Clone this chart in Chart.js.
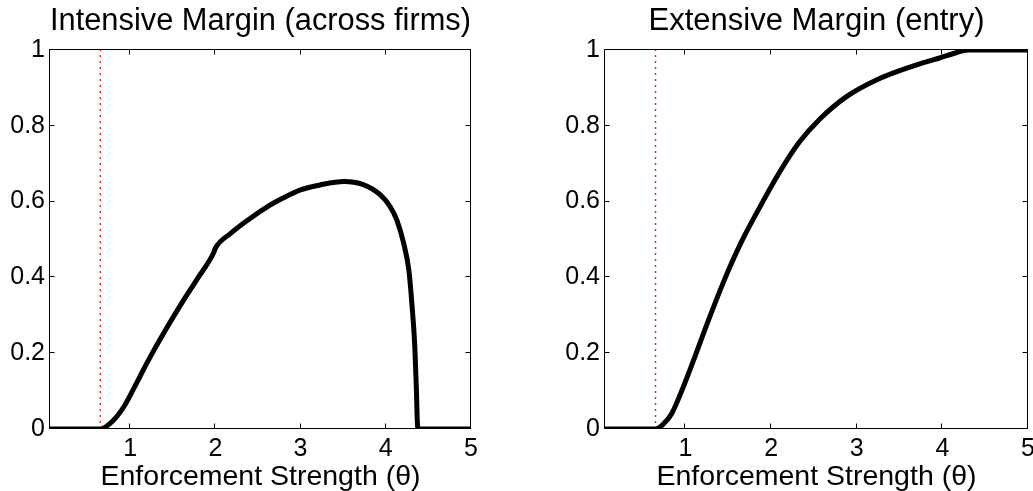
<!DOCTYPE html>
<html><head><meta charset="utf-8">
<script src="https://cdn.jsdelivr.net/npm/chart.js@4"></script>
<style>
html,body{margin:0;padding:0;background:#fff;overflow:hidden;width:1033px;height:491px;}
.box{position:absolute;top:0;height:491px;width:500px;}
#c1box{left:0;}
#c2box{left:555px;}
</style></head><body>
<div class="box" id="c1box"><canvas id="c1" width="500" height="491"></canvas></div>
<div class="box" id="c2box"><canvas id="c2" width="500" height="491"></canvas></div>
<script>
// ---- data ----
const titles = ['Intensive Margin (across firms)', 'Extensive Margin (entry)'];
const xAxisTitle = 'Enforcement Strength (\u03B8)';
const xTicks = [1, 2, 3, 4, 5];
const yTicks = [0, 0.2, 0.4, 0.6, 0.8, 1];
const yTickLabels = ['0', '0.2', '0.4', '0.6', '0.8', '1'];
const thresholdX = 0.65;
const thresholdY = [0, 1];

const intensiveX = [0.06, 0.3, 0.5, 0.65, 0.8, 0.93, 1.05, 1.2, 1.4, 1.6, 1.8, 1.98, 2.0, 2.18, 2.38, 2.6, 2.8, 3.0, 3.23, 3.51, 3.72, 3.94, 4.05, 4.13, 4.21, 4.27, 4.31, 4.34, 4.36, 4.37, 4.38, 4.6, 5.0];
const intensiveY = [0, 0, 0, 0, 0.022, 0.06, 0.11, 0.175, 0.255, 0.33, 0.4, 0.465, 0.477, 0.516, 0.551, 0.585, 0.61, 0.631, 0.644, 0.653, 0.646, 0.617, 0.587, 0.551, 0.49, 0.42, 0.32, 0.22, 0.1, 0.02, 0, 0, 0];

const extensiveX = [0.06, 0.3, 0.5, 0.65, 0.75, 0.84, 0.96, 1.08, 1.27, 1.47, 1.66, 1.86, 2.10, 2.33, 2.57, 2.88, 3.23, 3.62, 3.98, 4.15, 4.3, 4.5, 5.0];
const extensiveY = [0, 0, 0, 0, 0.015, 0.041, 0.103, 0.173, 0.288, 0.402, 0.497, 0.582, 0.678, 0.757, 0.818, 0.877, 0.921, 0.955, 0.98, 0.992, 1, 1, 1];

// ---- chart ----
const FONT = '"Liberation Sans", Arial, Helvetica, sans-serif';

const framePlugin = {
  id: 'frame',
  beforeDatasetsDraw(chart) {
    const {ctx, chartArea, scales} = chart;
    const L = Math.round(chartArea.left) - 0.5, R = Math.round(chartArea.right) - 0.5;
    const T = Math.round(chartArea.top) - 0.5, B = Math.round(chartArea.bottom) - 0.5;
    ctx.save();
    ctx.strokeStyle = '#000';
    ctx.lineWidth = 1;
    ctx.beginPath();
    ctx.rect(L, T, R - L, B - T);
    const tl = 5;
    xTicks.forEach(v => {
      const px = Math.round(scales.x.getPixelForValue(v)) - 0.5;
      ctx.moveTo(px, B); ctx.lineTo(px, B - tl);
      ctx.moveTo(px, T); ctx.lineTo(px, T + tl);
    });
    yTicks.forEach(v => {
      const py = Math.round(scales.y.getPixelForValue(v)) - 0.5;
      ctx.moveTo(L, py); ctx.lineTo(L + tl, py);
      ctx.moveTo(R, py); ctx.lineTo(R - tl, py);
    });
    ctx.stroke();
    ctx.restore();
  }
};

function makeChart(id, title, xs, ys, padRight) {
  const pts = xs.map((x, i) => ({x: x, y: ys[i]}));
  const th = thresholdY.map(y => ({x: thresholdX, y: y}));
  return new Chart(document.getElementById(id), {
    type: 'line',
    data: {
      datasets: [
        {data: pts, borderColor: '#000', borderWidth: 5, pointRadius: 0, cubicInterpolationMode: 'monotone', fill: false},
        {data: th, borderColor: 'rgba(255,0,0,0.9)', borderWidth: 1.4, borderDash: [2, 4], pointRadius: 0, fill: false}
      ]
    },
    options: {
      responsive: false,
      animation: false,
      events: [],
      layout: {padding: {left: 0, right: padRight, top: 0, bottom: 0}},
      plugins: {
        legend: {display: false},
        tooltip: {enabled: false},
        title: {display: true, text: title, fullSize: false, color: '#000',
          font: {family: FONT, size: 31, weight: 'normal', lineHeight: 1.2}, padding: {top: 3, bottom: 9.8}}
      },
      scales: {
        x: {
          type: 'linear', min: 0.06, max: 5,
          grid: {display: false, drawTicks: false},
          border: {display: false},
          afterBuildTicks: s => { s.ticks = xTicks.map(v => ({value: v})); },
          afterFit: s => { s.height = 62; s.paddingLeft = 0; s.paddingRight = 0; },
          ticks: {color: '#000', padding: 5, maxRotation: 0, autoSkip: false,
            font: {family: FONT, size: 25}, callback: v => String(v)},
          title: {display: true, text: xAxisTitle, color: '#000',
            font: {family: FONT, size: 28.5, lineHeight: 1.0}, padding: {top: 0, bottom: 0}}
        },
        y: {
          type: 'linear', min: 0, max: 1,
          grid: {display: false, drawTicks: false},
          border: {display: false},
          afterBuildTicks: s => { s.ticks = yTicks.map(v => ({value: v})); },
          afterFit: s => { s.width = 50; s.paddingTop = 0; s.paddingBottom = 0; },
          ticks: {color: '#000', padding: 5, autoSkip: false,
            font: {family: FONT, size: 25}, callback: (v, i) => yTickLabels[i]}
        }
      }
    },
    plugins: [framePlugin]
  });
}

makeChart('c1', titles[0], intensiveX, intensiveY, 29);
makeChart('c2', titles[1], extensiveX, extensiveY, 27);
</script>
</body></html>
